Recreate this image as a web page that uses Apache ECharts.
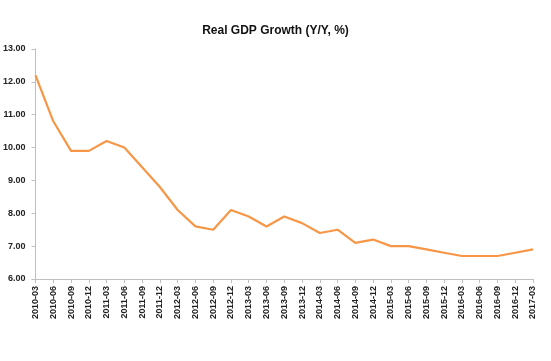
<!DOCTYPE html>
<html><head><meta charset="utf-8">
<script src="https://cdn.jsdelivr.net/npm/echarts@6/dist/echarts.min.js"></script>
<style>html,body{margin:0;padding:0;background:#fff}#c{width:551px;height:361px}</style>
</head><body><div id="c"></div>
<script>
const categories = ["2010-03","2010-06","2010-09","2010-12","2011-03","2011-06","2011-09","2011-12",
"2012-03","2012-06","2012-09","2012-12","2013-03","2013-06","2013-09","2013-12",
"2014-03","2014-06","2014-09","2014-12","2015-03","2015-06","2015-09","2015-12",
"2016-03","2016-06","2016-09","2016-12","2017-03"];
const gdpGrowth = [12.2,10.8,9.9,9.9,10.2,10.0,9.4,8.8,8.1,7.6,7.5,8.1,7.9,7.6,7.9,7.7,7.4,7.5,7.1,7.2,7.0,7.0,6.9,6.8,6.7,6.7,6.7,6.8,6.9];
const yMin = 6, yMax = 13, yStep = 1;

const chart = echarts.init(document.getElementById('c'), null, {renderer:'canvas'});
chart.setOption({
  animation: false,
  title: {text: 'Real GDP Growth (Y/Y, %)', left: 'center', top: 20,
    textStyle: {fontFamily: 'Liberation Sans', fontWeight: 'bold', fontSize: 12, color: '#111'}},
  grid: {left: 33, right: 18, top: 49, bottom: 82, containLabel: false},
  xAxis: {type: 'category', data: categories, boundaryGap: false,
    axisLine: {lineStyle: {color: '#bfbfbf', width: 1}},
    axisTick: {show: true, alignWithLabel: true, length: 4, lineStyle: {color: '#bfbfbf'}},
    axisLabel: {rotate: 90, interval: 0, margin: 7, fontFamily: 'Liberation Sans', fontWeight: 'bold', fontSize: 9, color: '#222'}},
  yAxis: {type: 'value', min: yMin, max: yMax, interval: yStep,
    splitLine: {show: false},
    axisLine: {show: true, lineStyle: {color: '#bfbfbf', width: 1}},
    axisTick: {show: true, length: 4, lineStyle: {color: '#bfbfbf'}},
    axisLabel: {formatter: v => v.toFixed(2), margin: 10, fontFamily: 'Liberation Sans', fontWeight: 'bold', fontSize: 9, color: '#222'}},
  series: [{type: 'line', data: gdpGrowth, symbol: 'none',
    lineStyle: {color: '#F79646', width: 2.2}}]
});
</script></body></html>
